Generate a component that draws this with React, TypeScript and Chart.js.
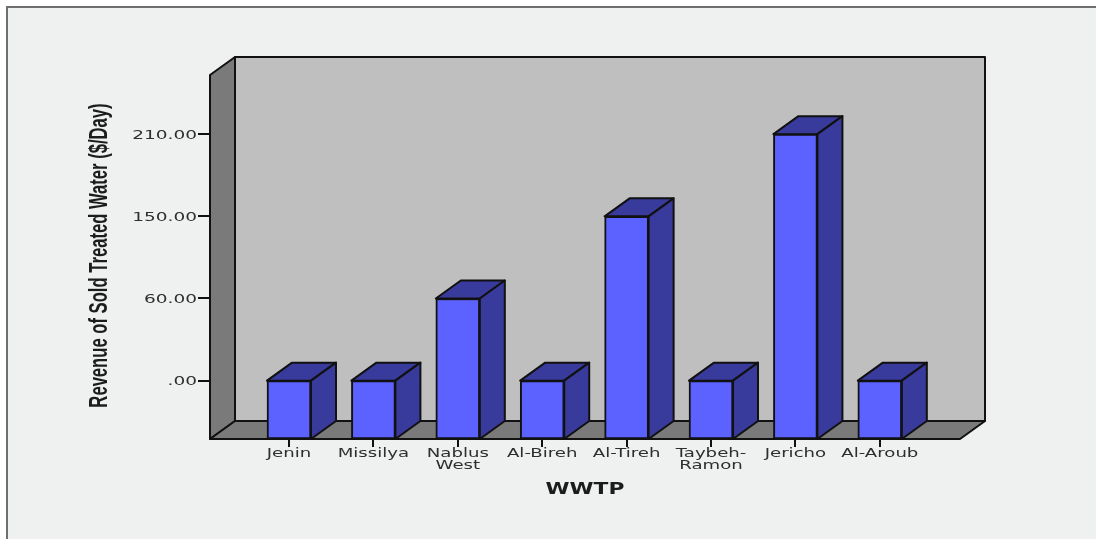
import React, { useEffect, useRef } from "react";
import { Chart, registerables } from "chart.js";

Chart.register(...registerables);

// Plant names along the horizontal axis; two-line names are split into arrays.
const plants = ["Jenin", "Missilya", ["Nablus", "West"], "Al-Bireh", "Al-Tireh", ["Taybeh-", "Ramon"], "Jericho", "Al-Aroub"];
// Revenue in $/day for each plant.
const revenue = [0, 0, 60, 0, 150, 0, 210, 0];
// The value axis is ordinal: each distinct value takes one evenly spaced step.
const axisValues = [0, 60, 150, 210];
const axisLabels = [".00", "60.00", "150.00", "210.00"];

const xTitle = "WWTP";
const yTitle = "Revenue of Sold Treated Water ($/Day)";

const DEPTH_X = 25;
const DEPTH_Y = 18;
const INK = "#111111";
const TEXT = "#2e2e2e";
const FRONT = "#5b62ff";
const SHADE = "#383a9c";
const WALL = "#7a7a7a";
const BACK = "#bfbfbf";
const PAPER = "#eff1f1";

function poly(ctx: CanvasRenderingContext2D, pts: number[][], fill: string, stroke = INK, lw = 2) {
  ctx.beginPath();
  pts.forEach(([x, y], i) => (i ? ctx.lineTo(x, y) : ctx.moveTo(x, y)));
  ctx.closePath();
  ctx.fillStyle = fill;
  ctx.fill();
  ctx.lineWidth = lw;
  ctx.lineJoin = "round";
  ctx.strokeStyle = stroke;
  ctx.stroke();
}

// Draws text stretched horizontally about its anchor point, optionally rotated.
function wideText(
  ctx: CanvasRenderingContext2D,
  text: string,
  x: number,
  y: number,
  font: string,
  stretch: number,
  align: CanvasTextAlign = "center",
  angle = 0,
  color = TEXT,
) {
  ctx.save();
  ctx.translate(x, y);
  ctx.rotate(angle);
  ctx.scale(stretch, 1);
  ctx.font = font;
  ctx.textAlign = align;
  ctx.textBaseline = "middle";
  ctx.fillStyle = color;
  ctx.fillText(text, 0, 0);
  ctx.restore();
}

const paperPlugin = {
  id: "paper",
  beforeDraw(chart: any) {
    const { ctx, width, height } = chart;
    ctx.save();
    ctx.fillStyle = "#ffffff";
    ctx.fillRect(0, 0, width, height);
    ctx.fillStyle = PAPER;
    ctx.fillRect(7, 7, width - 7, height - 7);
    ctx.strokeStyle = "#6f6f6f";
    ctx.lineWidth = 2;
    ctx.beginPath();
    ctx.moveTo(7, height);
    ctx.lineTo(7, 7);
    ctx.lineTo(width, 7);
    ctx.stroke();
    ctx.restore();
  },
};

const boxPlugin = {
  id: "box",
  // The walls and floor sit behind the axes' tick marks and the bars.
  beforeDatasetsDraw(chart: any) {
    const { ctx, chartArea: a } = chart;
    const l = a.left, r = a.right, t = a.top, b = a.bottom;
    const dx = DEPTH_X, dy = DEPTH_Y;
    ctx.save();
    poly(ctx, [[l + dx, t - dy], [r + dx, t - dy], [r + dx, b - dy], [l + dx, b - dy]], BACK);
    poly(ctx, [[l, t], [l + dx, t - dy], [l + dx, b - dy], [l, b]], WALL);
    poly(ctx, [[l, b], [l + dx, b - dy], [r + dx, b - dy], [r, b]], WALL);

    // Top and side faces of each bar; the front face comes from the dataset itself.
    chart.getDatasetMeta(0).data.forEach((bar: any) => {
      const hw = bar.width / 2;
      const x0 = bar.x - hw, x1 = bar.x + hw, y0 = bar.y, y1 = bar.base;
      poly(ctx, [[x0, y0], [x0 + dx, y0 - dy], [x1 + dx, y0 - dy], [x1, y0]], SHADE);
      poly(ctx, [[x1, y0], [x1 + dx, y0 - dy], [x1 + dx, y1 - dy], [x1, y1]], SHADE);
    });
    ctx.restore();
  },
  afterDraw(chart: any) {
    const { ctx, scales } = chart;
    const tickFont = "12.5px 'DejaVu Sans'";
    scales.y.ticks.forEach((tick: any, i: number) => {
      wideText(ctx, String(tick.label), 197, scales.y.getPixelForTick(i) + 1.5, tickFont, 1.48, "right");
    });
    scales.x.ticks.forEach((tick: any, i: number) => {
      const lines = Array.isArray(tick.label) ? tick.label : [tick.label];
      lines.forEach((line: string, k: number) => {
        wideText(ctx, line, scales.x.getPixelForTick(i), 454 + k * 12, tickFont, 1.45);
      });
    });
    wideText(ctx, xTitle, 585, 490, "bold 16px 'DejaVu Sans'", 1.36, "center", 0, "#1c1c1c");
    wideText(ctx, yTitle, 100, 255.5, "bold 25px 'Liberation Sans'", 0.665, "center", -Math.PI / 2, "#1c1c1c");
  },
};

export default function App() {
  const ref = useRef<HTMLCanvasElement>(null);

  useEffect(() => {
    const chart = new Chart(ref.current!, {
      type: "bar",
      data: {
        datasets: [
          {
            label: yTitle,
            data: revenue.map((v, i) => ({ x: i, y: axisValues.indexOf(v) })),
            backgroundColor: FRONT,
            borderColor: INK,
            borderWidth: 2,
            borderSkipped: false,
            barThickness: 44,
            base: -0.71,
          },
        ],
      },
      options: {
        responsive: false,
        animation: false,
        layout: { padding: { left: 0, top: 75, right: 136, bottom: 40 } },
        plugins: { legend: { display: false }, tooltip: { enabled: false } },
        scales: {
          x: {
            type: "linear",
            offset: false,
            min: -0.936,
            max: 7.95,
            border: { display: false },
            grid: { offset: false, drawOnChartArea: false, color: INK, lineWidth: 2, tickLength: 8 },
            ticks: { display: false, callback: (v: any) => plants[v] as any },
            afterBuildTicks: (s: any) => {
              s.ticks = plants.map((_, value) => ({ value }));
            },
            afterFit: (s: any) => {
              s.height = 60;
            },
          },
          y: {
            type: "linear",
            min: -0.71,
            max: 3.72,
            border: { display: false },
            grid: { drawOnChartArea: false, color: INK, lineWidth: 2, tickLength: 12 },
            ticks: { display: false, stepSize: 1, callback: (v: any) => axisLabels[v] },
            afterBuildTicks: (s: any) => {
              s.ticks = axisValues.map((_, value) => ({ value }));
            },
            afterFit: (s: any) => {
              s.width = 210;
            },
          },
        },
      },
      plugins: [paperPlugin, boxPlugin],
    } as any);
    return () => chart.destroy();
  }, []);

  return (
    <canvas
      ref={ref}
      width={1096}
      height={539}
      style={{ position: "fixed", left: 0, top: 0, display: "block" }}
    />
  );
}
